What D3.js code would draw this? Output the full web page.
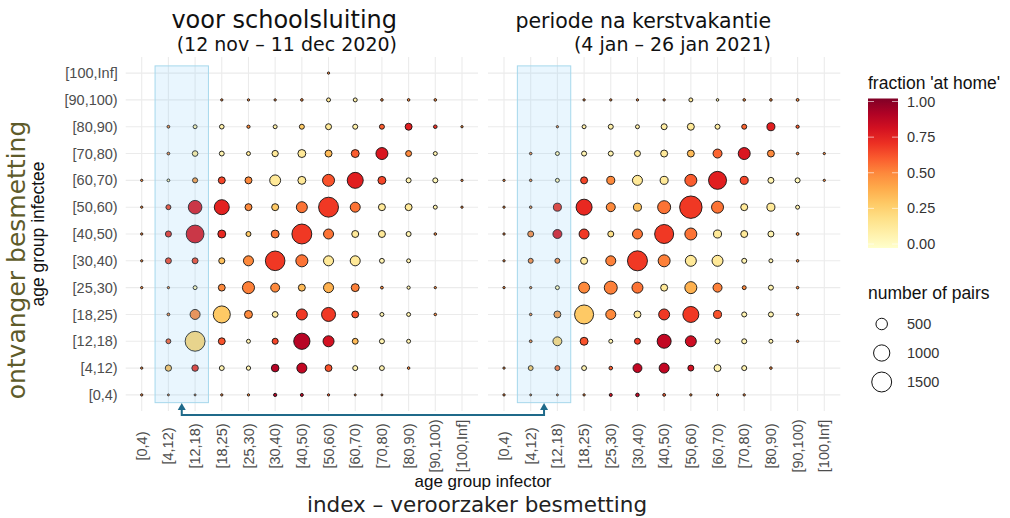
<!DOCTYPE html>
<html>
<head>
<meta charset="utf-8">
<script src="https://cdn.jsdelivr.net/npm/d3@7"></script>
<style>
  body { margin: 0; background: #fff; }
  text { font-family: "Liberation Sans", Arial, sans-serif; }
</style>
</head>
<body>
<div id="chart"></div>
<script>
// age groups, used for both axes (rows = infectee, columns = infector)
var ageGroups = ["[0,4)", "[4,12)", "[12,18)", "[18,25)", "[25,30)", "[30,40)", "[40,50)",
  "[50,60)", "[60,70)", "[70,80)", "[80,90)", "[90,100)", "[100,Inf]"];

// number of pairs, row = infectee group, column = infector group (0 = no point)
var nBefore = [
  [20, 15, 15, 20, 20, 40, 35, 20, 15, 15, 0, 0, 0],
  [20, 150, 160, 90, 70, 220, 380, 180, 95, 90, 25, 0, 0],
  [0, 90, 1500, 180, 60, 140, 1000, 460, 130, 95, 60, 0, 0],
  [0, 30, 380, 1100, 240, 130, 460, 740, 180, 60, 60, 25, 0],
  [20, 20, 60, 180, 550, 300, 185, 380, 240, 30, 40, 20, 0],
  [20, 135, 135, 140, 380, 1450, 550, 380, 380, 90, 60, 0, 0],
  [20, 140, 1200, 240, 95, 240, 1500, 378, 185, 185, 95, 25, 0],
  [20, 95, 700, 850, 185, 185, 457, 1500, 378, 185, 185, 60, 20],
  [20, 30, 100, 185, 185, 450, 240, 544, 968, 240, 95, 95, 20],
  [0, 30, 120, 90, 60, 150, 240, 185, 240, 544, 135, 60, 0],
  [0, 30, 60, 80, 40, 60, 95, 136, 95, 95, 185, 50, 20],
  [0, 0, 0, 20, 20, 20, 25, 60, 60, 25, 25, 25, 0],
  [0, 0, 0, 0, 0, 0, 0, 20, 0, 0, 0, 0, 0]
];
var fracBefore = [
  [.5, .5, .5, .5, .5, .88, .85, .6, .5, .5, 0, 0, 0],
  [.5, .33, .7, .08, .08, .88, .85, .62, .08, .08, .5, 0, 0],
  [0, .6, .25, .62, .08, .65, .88, .8, .35, .08, .08, 0, 0],
  [0, .5, .5, .3, .5, .12, .68, .68, .62, .08, .08, .5, 0],
  [.5, .5, .08, .5, .52, .5, .35, .38, .52, .5, .08, .5, 0],
  [.5, .65, .65, .33, .5, .68, .55, .15, .15, .08, .08, 0, 0],
  [.5, .7, .78, .72, .3, .55, .68, .55, .15, .15, .08, .5, 0],
  [.5, .65, .78, .74, .5, .3, .55, .68, .55, .15, .15, .08, .5],
  [.5, .1, .45, .65, .5, .15, .15, .62, .75, .65, .08, .05, .5],
  [0, .5, .15, .08, .15, .15, .15, .35, .6, .78, .5, .08, 0],
  [0, .5, .1, .1, .5, .1, .3, .15, .1, .6, .75, .7, .5],
  [0, 0, 0, .5, .5, .5, .5, .15, .1, .5, .5, .5, 0],
  [0, 0, 0, 0, 0, 0, 0, .5, 0, 0, 0, 0, 0]
];
var nAfter = [
  [20, 15, 15, 20, 35, 50, 30, 20, 20, 20, 0, 0, 0],
  [20, 90, 95, 90, 50, 300, 380, 136, 185, 95, 25, 0, 0],
  [0, 30, 300, 240, 60, 136, 741, 457, 95, 95, 60, 25, 0],
  [0, 25, 185, 1365, 378, 185, 457, 968, 242, 95, 95, 25, 0],
  [20, 20, 60, 457, 639, 457, 185, 544, 306, 60, 95, 25, 0],
  [20, 95, 95, 185, 378, 1512, 544, 457, 457, 95, 60, 25, 0],
  [20, 136, 306, 378, 136, 378, 1365, 544, 242, 185, 136, 30, 0],
  [20, 25, 242, 968, 306, 242, 639, 1900, 544, 185, 242, 60, 0],
  [20, 25, 60, 185, 242, 378, 242, 544, 1225, 242, 136, 95, 20],
  [0, 25, 60, 95, 95, 136, 185, 185, 306, 544, 185, 25, 20],
  [0, 0, 20, 60, 95, 60, 136, 185, 95, 95, 242, 40, 0],
  [0, 0, 0, 20, 20, 20, 20, 60, 25, 25, 25, 30, 0],
  [0, 0, 0, 0, 0, 0, 0, 0, 0, 0, 0, 0, 0]
];
var fracAfter = [
  [.5, .5, .5, .5, .8, .85, .6, .5, .5, .5, 0, 0, 0],
  [.5, .3, .55, .08, .6, .85, .85, .8, .08, .08, .5, 0, 0],
  [0, .5, .25, .62, .08, .68, .85, .82, .1, .08, .08, .5, 0],
  [0, .5, .45, .3, .5, .15, .68, .68, .62, .08, .08, .5, 0],
  [.5, .5, .08, .5, .52, .55, .15, .38, .52, .5, .08, .5, 0],
  [.5, .5, .5, .15, .52, .68, .52, .15, .15, .08, .08, .5, 0],
  [.5, .5, .78, .68, .2, .55, .68, .55, .15, .15, .08, .5, 0],
  [.5, .5, .7, .72, .5, .33, .55, .68, .55, .15, .15, .08, 0],
  [.5, .5, .1, .65, .5, .15, .15, .6, .75, .65, .08, .05, .5],
  [0, .5, .1, .08, .08, .15, .15, .35, .58, .78, .5, .5, .5],
  [0, 0, .5, .1, .1, .1, .12, .15, .12, .58, .75, .6, 0],
  [0, 0, 0, .5, .5, .5, .5, .15, .1, .5, .5, .5, 0],
  [0, 0, 0, 0, 0, 0, 0, 0, 0, 0, 0, 0, 0]
];

var panelTitles = ["voor schoolsluiting", "periode na kerstvakantie"];
var panelSubtitles = ["(12 nov \u2013 11 dec 2020)", "(4 jan \u2013 26 jan 2021)"];
var colorTicks = [0, 0.25, 0.5, 0.75, 1];
var sizeTicks = [500, 1000, 1500];

var width = 1010, height = 518;
var panelTop = 57, panelH = 354, panelW = 352.3;
var panelLefts = [125.7, 488];

var svg = d3.select("#chart").append("svg")
  .attr("width", width)
  .attr("height", height);

var color = d3.scaleSequential(d3.interpolateYlOrRd).domain([0, 1]);
var size = d3.scaleSqrt().domain([0, 2000]).range([0, 11.5]);

var x = d3.scalePoint().domain(ageGroups).range([0, panelW]).padding(0.6);
var y = d3.scalePoint().domain(ageGroups).range([panelH, 0]).padding(0.6);

var panels = [
  { n: nBefore, f: fracBefore },
  { n: nAfter, f: fracAfter }
];

panels.forEach(function(p, k) {
  var g = svg.append("g")
    .attr("transform", "translate(" + panelLefts[k] + "," + panelTop + ")");

  // grid
  g.selectAll("line.v").data(ageGroups).enter().append("line")
    .attr("x1", d => x(d)).attr("x2", d => x(d))
    .attr("y1", 0).attr("y2", panelH)
    .attr("stroke", "#ebebeb").attr("stroke-width", 1.1);
  g.selectAll("line.h").data(ageGroups).enter().append("line")
    .attr("y1", d => y(d)).attr("y2", d => y(d))
    .attr("x1", 0).attr("x2", panelW)
    .attr("stroke", "#ebebeb").attr("stroke-width", 1.1);

  // points
  var pts = [];
  p.n.forEach(function(row, r) {
    row.forEach(function(v, c) {
      if (v > 0) pts.push({ row: ageGroups[r], col: ageGroups[c], n: v, f: p.f[r][c] });
    });
  });
  g.selectAll("circle").data(pts).enter().append("circle")
    .attr("cx", d => x(d.col))
    .attr("cy", d => y(d.row))
    .attr("r", d => size(d.n))
    .attr("fill", d => color(d.f))
    .attr("stroke", "#111")
    .attr("stroke-width", 0.9);

  // highlighted infector columns [4,12) and [12,18)
  var step = x.step();
  g.append("rect")
    .attr("x", x(ageGroups[1]) - step / 2)
    .attr("y", y(ageGroups[12]) - 0.27 * step)
    .attr("width", x(ageGroups[2]) - x(ageGroups[1]) + step)
    .attr("height", y(ageGroups[0]) - y(ageGroups[12]) + 0.56 * step)
    .attr("fill", "#87cefa").attr("fill-opacity", 0.18)
    .attr("stroke", "#a6d8ec").attr("stroke-width", 1);

  // x tick labels
  g.selectAll("text.xt").data(ageGroups).enter().append("text")
    .attr("transform", d => "translate(" + x(d) + "," + (446 - panelTop) + ") rotate(-90)")
    .attr("text-anchor", "middle")
    .attr("dy", "0.35em")
    .attr("font-size", 14.5)
    .attr("fill", "#4d4d4d")
    .text(d => d);

  if (k === 0) {
    g.selectAll("text.yt").data(ageGroups).enter().append("text")
      .attr("x", -8)
      .attr("y", d => y(d))
      .attr("dy", "0.35em")
      .attr("text-anchor", "end")
      .attr("font-size", 14.5)
      .attr("fill", "#4d4d4d")
      .text(d => d);
  }
});

// panel titles
var titleEnds = [397, 771];
var titleSizes = [24, 20.5];
panelTitles.forEach(function(t, k) {
  svg.append("text")
    .attr("x", titleEnds[k]).attr("y", 28)
    .attr("text-anchor", "end")
    .style("font-family", "'DejaVu Sans', Verdana, sans-serif")
    .attr("font-size", titleSizes[k])
    .attr("fill", "#111")
    .text(t);
  svg.append("text")
    .attr("x", titleEnds[k]).attr("y", 51)
    .attr("text-anchor", "end")
    .style("font-family", "'DejaVu Sans', Verdana, sans-serif")
    .attr("font-size", 19)
    .attr("fill", "#111")
    .text(panelSubtitles[k]);
});

// connecting arrow between highlighted areas
var ax1 = panelLefts[0] + (x(ageGroups[1]) + x(ageGroups[2])) / 2;
var ax2 = panelLefts[1] + (x(ageGroups[1]) + x(ageGroups[2])) / 2;
var arrowColor = "#1f6a8a";
svg.append("path")
  .attr("d", "M" + ax1 + ",408 V415 H" + ax2 + " V408")
  .attr("fill", "none").attr("stroke", arrowColor).attr("stroke-width", 2);
[ax1, ax2].forEach(function(ax) {
  svg.append("path")
    .attr("d", "M" + ax + ",403 L" + (ax - 4) + ",410 L" + (ax + 4) + ",410 Z")
    .attr("fill", arrowColor);
});

// axis titles
svg.append("text")
  .attr("x", panelLefts[0] + (panelLefts[1] + panelW - panelLefts[0]) / 2)
  .attr("y", 487)
  .attr("text-anchor", "middle")
  .attr("font-size", 17)
  .attr("fill", "#111")
  .text("age group infector");
svg.append("text")
  .attr("x", 477).attr("y", 512)
  .attr("text-anchor", "middle")
  .style("font-family", "'DejaVu Sans', Verdana, sans-serif")
  .attr("font-size", 21.5)
  .attr("fill", "#222")
  .text("index \u2013 veroorzaker besmetting");
svg.append("text")
  .attr("transform", "translate(44," + (panelTop + panelH / 2) + ") rotate(-90)")
  .attr("text-anchor", "middle")
  .attr("font-size", 17.5)
  .attr("fill", "#111")
  .text("age group infectee");
svg.append("text")
  .attr("transform", "translate(25,260) rotate(-90)")
  .attr("text-anchor", "middle")
  .style("font-family", "'DejaVu Sans', Verdana, sans-serif")
  .attr("font-size", 25)
  .attr("fill", "#5e5b2a")
  .text("ontvanger besmetting");

// colour legend
var leg = svg.append("g");
leg.append("text")
  .attr("x", 868).attr("y", 89)
  .attr("font-size", 17.5).attr("fill", "#111")
  .text("fraction 'at home'");
var cy = d3.scaleLinear().domain([0, 1]).range([244, 101.5]);
var defs = svg.append("defs");
var grad = defs.append("linearGradient").attr("id", "cbar")
  .attr("x1", 0).attr("y1", 1).attr("x2", 0).attr("y2", 0);
d3.range(0, 1.01, 0.1).forEach(function(t) {
  grad.append("stop").attr("offset", t).attr("stop-color", color(t));
});
leg.append("rect")
  .attr("x", 868).attr("y", 98.5)
  .attr("width", 30).attr("height", 248 - 98.5)
  .attr("fill", "url(#cbar)");
leg.selectAll("line.ct").data(colorTicks).enter().append("line")
  .attr("x1", 868).attr("x2", 874)
  .attr("y1", d => cy(d)).attr("y2", d => cy(d))
  .attr("stroke", "#fff").attr("stroke-opacity", 0.6);
leg.selectAll("line.ct2").data(colorTicks).enter().append("line")
  .attr("x1", 892).attr("x2", 898)
  .attr("y1", d => cy(d)).attr("y2", d => cy(d))
  .attr("stroke", "#fff").attr("stroke-opacity", 0.6);
leg.selectAll("text.cl").data(colorTicks).enter().append("text")
  .attr("x", 907).attr("y", d => cy(d))
  .attr("dy", "0.35em")
  .attr("font-size", 14.5).attr("fill", "#333")
  .text(d => d3.format(".2f")(d));

// size legend
leg.append("text")
  .attr("x", 868).attr("y", 299)
  .attr("font-size", 17.5).attr("fill", "#111")
  .text("number of pairs");
var sizeY = [324, 353, 382];
leg.selectAll("circle.sl").data(sizeTicks).enter().append("circle")
  .attr("cx", 881.7).attr("cy", (d, i) => sizeY[i])
  .attr("r", d => size(d))
  .attr("fill", "none").attr("stroke", "#111").attr("stroke-width", 1);
leg.selectAll("text.sl").data(sizeTicks).enter().append("text")
  .attr("x", 907).attr("y", (d, i) => sizeY[i])
  .attr("dy", "0.35em")
  .attr("font-size", 14.5).attr("fill", "#333")
  .text(d => d);
</script>
</body>
</html>
